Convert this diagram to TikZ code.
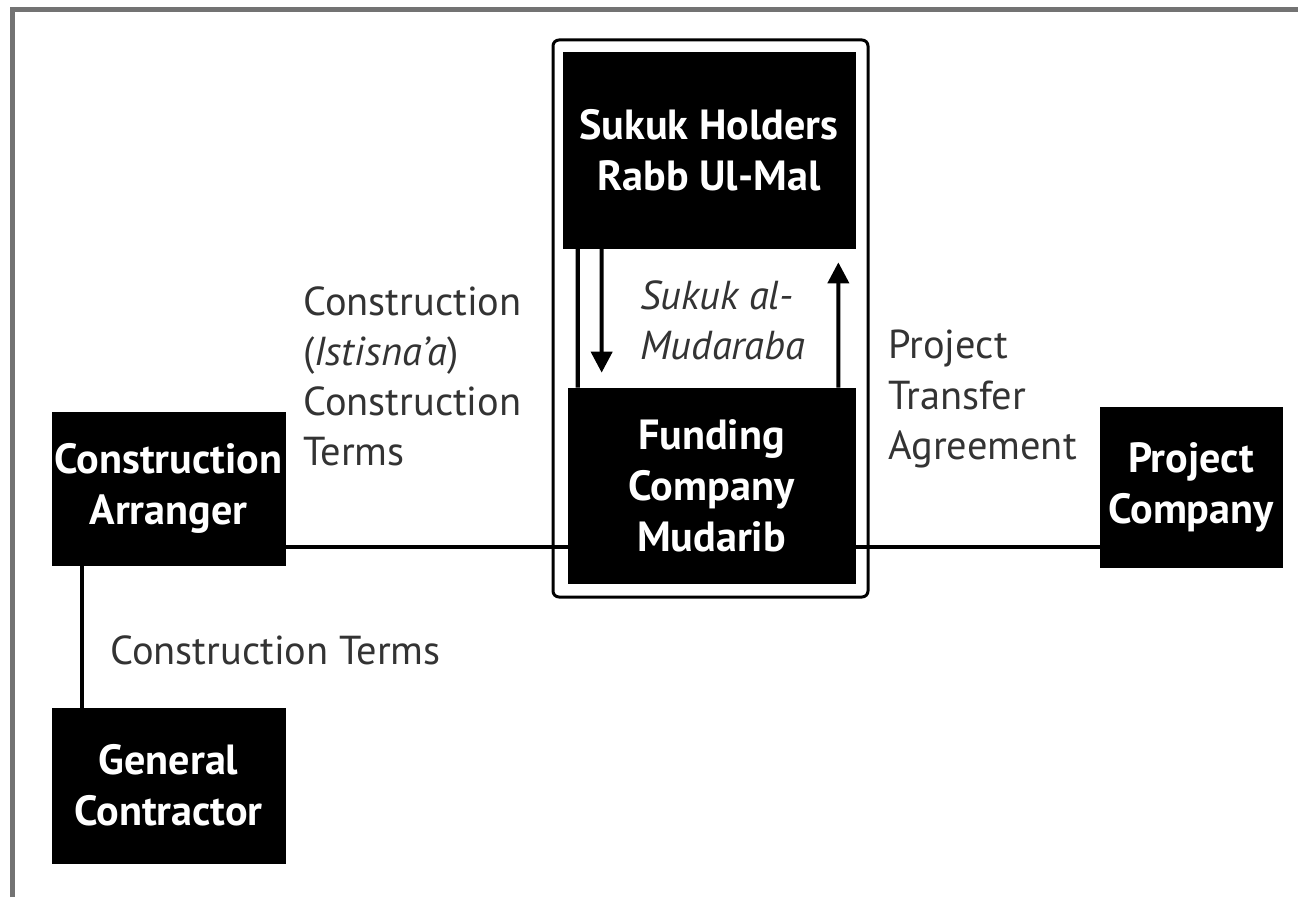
\documentclass[tikz,border=0pt]{standalone}
\usepackage{fontspec}
\setmainfont{PT Sans}
\usetikzlibrary{arrows.meta}
\tikzset{
	party/.style={fill=black, draw=black, text=white, font=\fontsize{24}{29}\selectfont\bfseries, align=center, inner sep=0pt},
	deal/.style={text=black!80, font=\fontsize{23}{28.5}\selectfont, align=left, inner sep=0pt, anchor=west},
	link/.style={line width=0.085cm},
	flow/.style={line width=0.08cm, -{Triangle[width=0.42cm,length=0.42cm]}}
}

\begin{document}
\begin{tikzpicture}
			%%%%% START %%%%%
			
			\useasboundingbox (0, 0) rectangle (25.96, 17.94);
			\draw[line width=0.1cm, color=black!55] (0.24, 0) -- (0.24, 17.74) -- (25.96, 17.74);
			
			\draw[line width=0.06cm, rounded corners=0.12cm] (11.06, 6.0) rectangle (17.36, 17.14);
			
			\node[party, minimum width=5.84cm, minimum height=3.92cm] (sukuk) at (14.18, 14.94) {Sukuk Holders\\Rabb Ul-Mal};
			\node[party, minimum width=5.74cm, minimum height=3.9cm] (fund) at (14.23, 8.23) {Funding\\Company\\Mudarib};
			\node[party, minimum width=4.66cm, minimum height=3.06cm] (arranger) at (3.37, 8.17) {Construction\\Arranger};
			\node[party, minimum width=4.66cm, minimum height=3.1cm] (contractor) at (3.37, 2.23) {General\\Contractor};
			\node[party, minimum width=3.64cm, minimum height=3.2cm] (project) at (23.82, 8.2) {Project\\Company};
			
			\coordinate (line) at (0, 7.0);
			\draw[link] (arranger.east |- line) -- (fund.west |- line);
			\draw[link] (fund.east |- line) -- (project.west |- line);
			\draw[link] ([xshift=0.6cm]arranger.south west) -- ([xshift=0.6cm]contractor.north west);
			
			\draw[link] ([xshift=0.3cm]sukuk.south west) -- ([xshift=0.2cm]fund.north west);
			\draw[flow, shorten >=0.3cm] ([xshift=0.78cm]sukuk.south west) -- ([xshift=0.68cm]fund.north west);
			\draw[flow, shorten >=0.28cm] ([xshift=-0.34cm]fund.north east) -- ([xshift=-0.34cm]sukuk.south east);
			
			\node[deal, font=\fontsize{23}{28.5}\selectfont\itshape] (mudaraba) at (12.8, 11.54) {Sukuk al-\\Mudaraba};
			\node[deal] (istisna) at (6.06, 10.42) {Construction\\(\textit{Istisna'a})\\Construction\\Terms};
			\node[deal] (transfer) at (17.76, 9.96) {Project\\Transfer\\Agreement};
			\node[deal] (terms) at (2.2, 4.94) {Construction Terms};
			
			%%%%% END %%%%%
\end{tikzpicture}
\end{document}
